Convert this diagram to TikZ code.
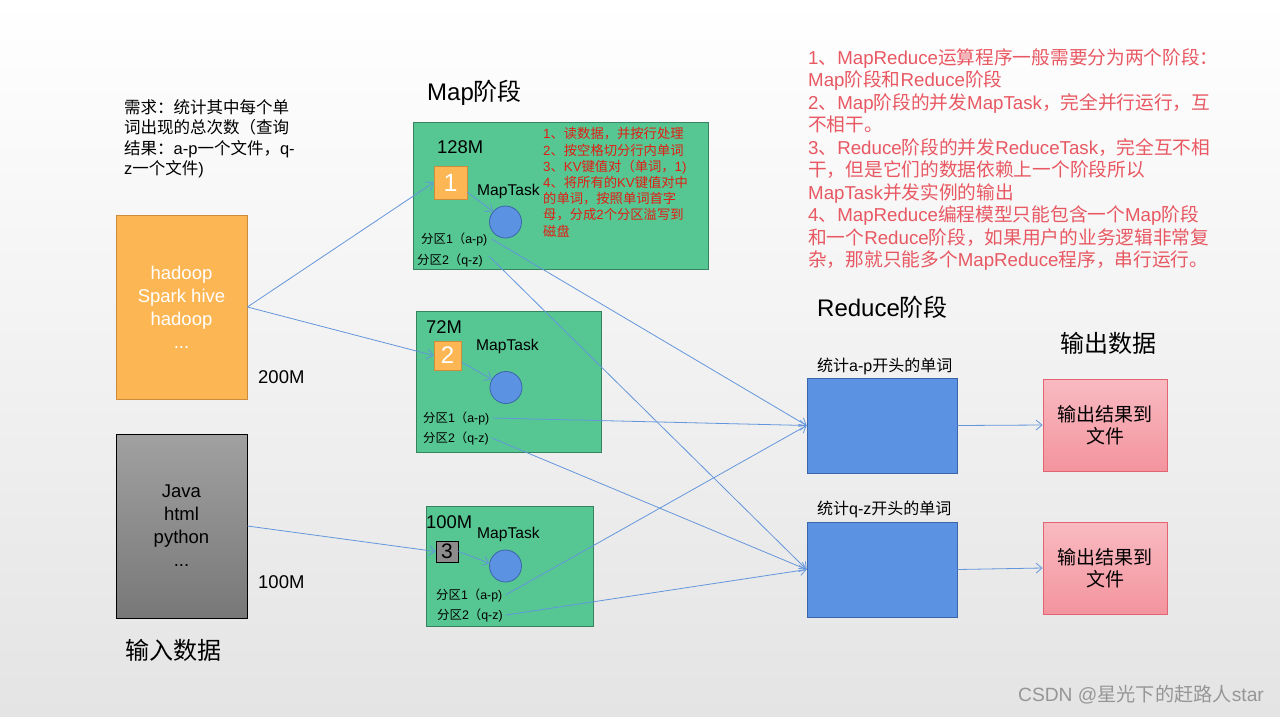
\documentclass[tikz,border=0pt]{standalone}
\usepackage{fontspec}
\setmainfont{Noto Sans CJK SC}
\newfontfamily\lat{Liberation Sans}
\newcommand\LA[1]{{\lat #1}}
\usetikzlibrary{arrows.meta}
\definecolor{bgbot}{RGB}{228,228,228}
\definecolor{orangeF}{RGB}{253,182,84}
\definecolor{orangeB}{RGB}{205,140,60}
\definecolor{greenF}{RGB}{86,198,146}
\definecolor{greenB}{RGB}{55,130,95}
\definecolor{blueF}{RGB}{92,146,226}
\definecolor{blueB}{RGB}{60,100,170}
\definecolor{pinkT}{RGB}{249,186,193}
\definecolor{pinkB}{RGB}{243,148,158}
\definecolor{pinkD}{RGB}{225,100,115}
\definecolor{arr}{RGB}{100,150,220}
\definecolor{noteR}{RGB}{232,88,98}
\definecolor{taskR}{RGB}{225,30,20}
\definecolor{wm}{RGB}{150,150,150}
\begin{document}
\begin{tikzpicture}[x=1pt,y=-1pt,
  txt/.style={inner sep=0pt, anchor=west},
  box/.style={inner sep=0pt, draw, line width=0.8pt},
  big/.style={txt, font=\fontsize{24}{28}\selectfont},
  part/.style={txt, font=\fontsize{12.4}{14}\selectfont},
  mt/.style={txt, font=\lat\fontsize{15.6}{18}\selectfont},
  circ/.style={circle, draw=blueB, fill=blueF, line width=0.8pt, minimum size=32pt, inner sep=0pt},
  conn/.style={draw=arr, line width=0.8pt, -{Straight Barb[length=6pt,width=10pt]}},
  line/.style={draw=arr, line width=0.8pt}
]
\fill[top color=white, bottom color=bgbot] (0,0) rectangle (1280,716);
\useasboundingbox (0,0) rectangle (1280,716);

% requirement text
\node[inner sep=0pt, anchor=north west, align=left, font=\fontsize{16.5}{20.5}\selectfont] (req) at (124,99)
 {需求：统计其中每个单\\词出现的总次数（查询\\结果：\LA{a-p}一个文件，\LA{q-}\\\LA{z}一个文件\LA{)}};

% notes
\node[inner sep=0pt, anchor=north west, align=left, text=noteR, font=\fontsize{18.7}{22.5}\selectfont] (notes) at (808,48)
 {\LA{1}、\LA{MapReduce}运算程序一般需要分为两个阶段：\\
  \LA{Map}阶段和\LA{Reduce}阶段\\
  \LA{2}、\LA{Map}阶段的并发\LA{MapTask}，完全并行运行，互\\
  不相干。\\
  \LA{3}、\LA{Reduce}阶段的并发\LA{ReduceTask}，完全互不相\\
  干，但是它们的数据依赖上一个阶段所以\\
  \LA{MapTask}并发实例的输出\\
  \LA{4}、\LA{MapReduce}编程模型只能包含一个\LA{Map}阶段\\
  和一个\LA{Reduce}阶段，如果用户的业务逻辑非常复\\
  杂，那就只能多个\LA{MapReduce}程序，串行运行。};

% titles
\node[big] (tmap) at (427,93) {\LA{Map}阶段};
\node[big] (tin) at (125,650) {输入数据};
\node[big] (tred) at (817,307) {\LA{Reduce}阶段};
\node[big] (tout) at (1060,343) {输出数据};

% input boxes
\node[box, draw=orangeB, fill=orangeF, minimum width=131pt, minimum height=184pt,
  align=center, text=white, font=\lat\fontsize{18.5}{23}\selectfont] (in1) at (181.5,307)
  {hadoop\\Spark hive\\hadoop\\...};
\node[box, draw=black, top color=black!37, bottom color=black!53, minimum width=131pt, minimum height=184pt,
  align=center, text=black, font=\lat\fontsize{18.5}{23}\selectfont] (in2) at (181.5,526)
  {Java\\html\\python\\...};
\node[txt, font=\lat\fontsize{18.5}{22}\selectfont] (s200) at (258,377) {200M};
\node[txt, font=\lat\fontsize{18.5}{22}\selectfont] (s100) at (258,582) {100M};

% map task boxes
\node[box, draw=greenB, fill=greenF, minimum width=295pt, minimum height=147pt] (m1) at (560.5,195.5) {};
\node[box, draw=greenB, fill=greenF, minimum width=185pt, minimum height=141pt] (m2) at (508.5,381.5) {};
\node[box, draw=greenB, fill=greenF, minimum width=167pt, minimum height=120pt] (m3) at (509.5,566) {};

\node[txt, font=\lat\fontsize{18.4}{22}\selectfont] (m1s) at (437,147) {128M};
\node[txt, font=\lat\fontsize{18.4}{22}\selectfont] (m2s) at (426,327) {72M};
\node[txt, font=\lat\fontsize{18.4}{22}\selectfont] (m3s) at (426,522) {100M};

\node[box, draw=orangeB, fill=orangeF, minimum width=33pt, minimum height=33pt, text=white, font=\lat\fontsize{25}{26}\selectfont] (q1) at (450.5,182.5) {1};
\node[box, draw=orangeB, fill=orangeF, minimum width=27pt, minimum height=29pt, text=white, font=\lat\fontsize{24}{26}\selectfont] (q2) at (447.5,355.5) {2};
\node[box, draw=black, fill=black!45, minimum width=22pt, minimum height=21pt, text=black, font=\lat\fontsize{21}{22}\selectfont] (q3) at (447,551.5) {3};

\node[mt] (mt1) at (477,191) {MapTask};
\node[mt] (mt2) at (476,346) {MapTask};
\node[mt] (mt3) at (477,534) {MapTask};

\node[circ] (c1) at (505.5,222) {};
\node[circ] (c2) at (506,387.5) {};
\node[circ] (c3) at (505.5,566) {};

\node[inner sep=0pt, anchor=north west, align=left, text=taskR, font=\fontsize{13.3}{16.2}\selectfont] (task) at (543,127.5)
 {\LA{1}、读数据，并按行处理\\
  \LA{2}、按空格切分行内单词\\
  \LA{3}、\LA{KV}键值对（单词，\LA{1)}\\
  \LA{4}、将所有的\LA{KV}键值对中\\
  的单词，按照单词首字\\
  母，分成\LA{2}个分区溢写到\\
  磁盘};

\node[part] (p11) at (421,239) {分区\LA{1}（\LA{a-p)}};
\node[part] (p12) at (417,260) {分区\LA{2}（\LA{q-z)}};
\node[part] (p21) at (423,418) {分区\LA{1}（\LA{a-p)}};
\node[part] (p22) at (423,438) {分区\LA{2}（\LA{q-z)}};
\node[part] (p31) at (436,595) {分区\LA{1}（\LA{a-p)}};
\node[part] (p32) at (437,615) {分区\LA{2}（\LA{q-z)}};

% reduce
\node[txt, font=\fontsize{16}{19}\selectfont] (rl1) at (817,366) {统计\LA{a-p}开头的单词};
\node[txt, font=\fontsize{16}{19}\selectfont] (rl2) at (817,509) {统计\LA{q-z}开头的单词};
\node[box, draw=blueB, fill=blueF, minimum width=150pt, minimum height=95pt] (r1) at (882,425.5) {};
\node[box, draw=blueB, fill=blueF, minimum width=150pt, minimum height=95pt] (r2) at (882,569.5) {};

% output
\node[box, draw=pinkD, top color=pinkT, bottom color=pinkB, minimum width=124pt, minimum height=92pt,
  align=center, font=\fontsize{19}{22}\selectfont] (o1) at (1105,425) {输出结果到\\文件};
\node[box, draw=pinkD, top color=pinkT, bottom color=pinkB, minimum width=124pt, minimum height=92pt,
  align=center, font=\fontsize{19}{22}\selectfont] (o2) at (1105,568) {输出结果到\\文件};

% connectors
\draw[conn] (in1.east) -- (q1.west);
\draw[conn] (in1.east) -- (q2.west);
\draw[conn] (in2.east) -- (q3.west);
\draw[conn] (q1.-30) -- (c1.140);
\draw[conn] (q2.-25) -- (c2.150);
\draw[conn] (q3.east) -- (c3.170);
\draw[conn] ([xshift=4pt]p11.east) -- (r1.west);
\draw[conn] ([xshift=6pt,yshift=4pt]p12.east) -- (r2.west);
\draw[conn] ([xshift=3pt]p21.east) -- (r1.west);
\draw[conn] ([xshift=3pt]p22.east) -- (r2.west);
\draw[conn] ([xshift=3pt]p31.east) -- (r1.west);
\draw[conn] ([xshift=3pt]p32.east) -- (r2.west);
\draw[conn] (r1.east) -- (o1.west);
\draw[conn] (r2.east) -- (o2.west);

% watermark
\node[txt, text=wm, font=\fontsize{19.2}{21}\selectfont] (wmk) at (1018,695) {\LA{CSDN @}星光下的赶路人\LA{star}};
\end{tikzpicture}
\end{document}
